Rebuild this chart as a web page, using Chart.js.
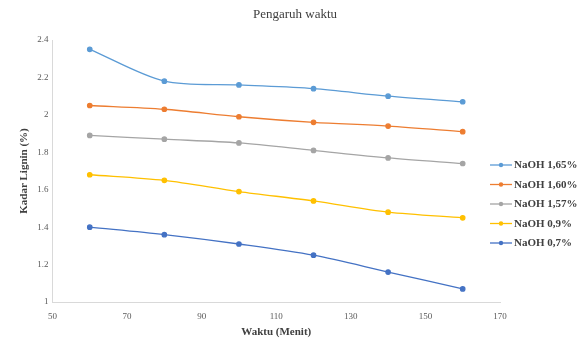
<!DOCTYPE html>
<html lang="en">
<head>
<meta charset="UTF-8">
<title>Pengaruh waktu</title>
<script src="https://cdn.jsdelivr.net/npm/chart.js"></script>
<style>
  html, body { margin: 0; padding: 0; background: #fff; }
</style>
</head>
<body>
<canvas id="waktu-chart" width="582" height="340"></canvas>
<script>
// waktu (menit)
const waktu = [60, 80, 100, 120, 140, 160];

const seriesNames = ['NaOH 1,65%', 'NaOH 1,60%', 'NaOH 1,57%', 'NaOH 0,9%', 'NaOH 0,7%'];
const seriesColors = ['#5B9BD5', '#ED7D31', '#A5A5A5', '#FFC000', '#4472C4'];

// kadar lignin (%)
const naoh165 = [2.35, 2.18, 2.16, 2.14, 2.10, 2.07];
const naoh160 = [2.05, 2.03, 1.99, 1.96, 1.94, 1.91];
const naoh157 = [1.89, 1.87, 1.85, 1.81, 1.77, 1.74];
const naoh09  = [1.68, 1.65, 1.59, 1.54, 1.48, 1.45];
const naoh07  = [1.40, 1.36, 1.31, 1.25, 1.16, 1.07];

const xTicks = [50, 70, 90, 110, 130, 150, 170];
const yTicks = [1, 1.2, 1.4, 1.6, 1.8, 2, 2.2, 2.4];

const allSeries = [naoh165, naoh160, naoh157, naoh09, naoh07];

const serif = "'Liberation Serif', 'Times New Roman', serif";

const datasets = allSeries.map((vals, i) => ({
  label: seriesNames[i],
  data: vals.map((v, j) => ({ x: waktu[j], y: v })),
  borderColor: seriesColors[i],
  backgroundColor: seriesColors[i],
  borderWidth: 1.3,
  pointRadius: 2.2,
  pointHoverRadius: 3,
  tension: 0.3,
  fill: false
}));

// title across the whole canvas + legend on the right (line + dot, then label)
const titleAndLegend = {
  id: 'titleAndLegend',
  afterDraw(chart) {
    const ctx = chart.ctx;
    ctx.save();

    ctx.font = `13px ${serif}`;
    ctx.fillStyle = '#404040';
    ctx.textAlign = 'center';
    ctx.textBaseline = 'middle';
    ctx.fillText('Pengaruh waktu', 295, 15);

    const x0 = chart.chartArea.right - 10;
    const y0 = 165;
    const step = 19.5;
    ctx.font = `bold 11px ${serif}`;
    ctx.textAlign = 'left';
    chart.data.datasets.forEach((ds, i) => {
      const y = y0 + i * step;
      ctx.strokeStyle = ds.borderColor;
      ctx.lineWidth = 1.3;
      ctx.beginPath();
      ctx.moveTo(x0, y);
      ctx.lineTo(x0 + 22, y);
      ctx.stroke();
      ctx.fillStyle = ds.borderColor;
      ctx.beginPath();
      ctx.arc(x0 + 11, y, 2.2, 0, Math.PI * 2);
      ctx.fill();
      ctx.fillStyle = '#404040';
      ctx.fillText(ds.label, x0 + 24, y + 0.5);
    });
    ctx.restore();
  }
};

new Chart(document.getElementById('waktu-chart'), {
  type: 'line',
  data: { datasets: datasets },
  options: {
    responsive: false,
    animation: false,
    layout: { padding: { left: 18, right: 82, top: 40, bottom: 1 } },
    plugins: {
      legend: { display: false },
      tooltip: { enabled: true }
    },
    scales: {
      x: {
        type: 'linear',
        min: 50,
        max: 170,
        afterBuildTicks(axis) { axis.ticks = xTicks.map(v => ({ value: v })); },
        grid: { display: false, drawTicks: false },
        border: { display: true, color: '#D9D9D9' },
        ticks: { color: '#595959', font: { family: serif, size: 9 }, padding: 9, autoSkip: false, maxRotation: 0 },
        title: {
          display: true,
          text: 'Waktu (Menit)',
          color: '#404040',
          font: { family: serif, size: 11, weight: 'bold' },
          padding: { top: -5, bottom: 0 }
        }
      },
      y: {
        min: 1,
        max: 2.4,
        afterBuildTicks(axis) { axis.ticks = yTicks.map(v => ({ value: v })); },
        grid: { display: false, drawTicks: false },
        border: { display: true, color: '#D9D9D9' },
        ticks: {
          color: '#595959',
          font: { family: serif, size: 9 },
          padding: 4,
          autoSkip: false,
          callback: v => String(+v.toFixed(1))
        },
        title: {
          display: true,
          text: 'Kadar Lignin (%)',
          color: '#404040',
          font: { family: serif, size: 11, weight: 'bold' },
          padding: { top: 0, bottom: 2 }
        }
      }
    }
  },
  plugins: [titleAndLegend]
});
</script>
</body>
</html>
